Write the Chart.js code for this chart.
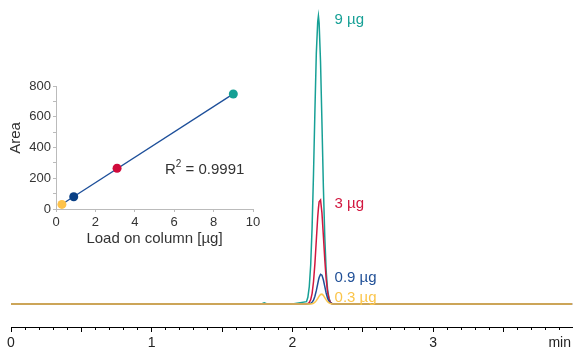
<!DOCTYPE html>
<html>
<head>
<meta charset="utf-8">
<script src="https://cdn.jsdelivr.net/npm/chart.js@4.4.1/dist/chart.umd.min.js"></script>
<style>
    body { margin: 0; background: #fff; }
    #wrap { position: relative; width: 574px; height: 350px; }
    #mainChart { position: absolute; left: 0; top: 0; }
    #insetChart { position: absolute; left: 0; top: 70px; }
</style>
</head>
<body>
<div id="wrap">
    <canvas id="mainChart" width="574" height="350"></canvas>
    <canvas id="insetChart" width="270" height="180"></canvas>
</div>
<script>
// Chromatogram (time in min, signal in arbitrary units)
const times = [0, 1.0, 1.78, 1.80, 1.82, 2.0,
    2.10, 2.11, 2.12, 2.13, 2.14, 2.15, 2.16, 2.17, 2.18, 2.185, 2.19,
    2.20, 2.21, 2.22, 2.23, 2.24, 2.25, 2.26, 2.27, 2.28, 2.29,
    3.0, 3.99];
const signal9ug = [0, 0, 0, 0.4, 0, 0,
    0.8, 2.3, 6.0, 13.5, 26.5, 45, 67, 87, 98, 100, 97.5,
    84, 63, 41, 23.5, 11.5, 5, 2, 0.6, 0.2, 0,
    0, 0];
const signal3ug = [0, 0, 0, 0, 0, 0,
    0, 0.2, 0.5, 1.5, 3.6, 7.7, 14.0, 22.1, 30.2, 33.2, 35.5,
    36.1, 31.6, 23.8, 15.5, 8.7, 4.2, 1.8, 0.6, 0.2, 0,
    0, 0];
const signal09ug = [0, 0, 0, 0, 0, 0,
    0, 0, 0.1, 0.2, 0.6, 1.3, 2.7, 4.6, 7.0, 8.2, 9.2,
    10.3, 10.0, 8.4, 6.1, 3.8, 2.0, 0.9, 0.4, 0.1, 0,
    0, 0];
const signal03ug = [0, 0, 0, 0, 0, 0,
    0, 0, 0, 0, 0.1, 0.25, 0.6, 1.15, 1.9, 2.3, 2.7,
    3.3, 3.4, 3.0, 2.2, 1.4, 0.8, 0.35, 0.15, 0, 0,
    0, 0];
const traceNames = ['9 µg', '3 µg', '0.9 µg', '0.3 µg'];

// Calibration inset
const loadOnColumn = [0.3, 0.9, 3.1, 9.0];
const peakArea = [30, 80, 265, 748];
const fitLoad = [0.3, 9.0];
const fitArea = [31, 749];
const r2Text = '0.9991';

const FONT = '"Liberation Sans", Arial, sans-serif';
const traceColors = ['#17a096', '#d2173f', '#1f4f97', '#fbc54b'];
const pointColors = ['#fdc24a', '#083f85', '#d00a3b', '#14a094'];

const traces = [signal9ug, signal3ug, signal09ug, signal03ug].map((vals, i) => ({
    label: traceNames[i],
    color: traceColors[i],
    values: vals,
}));

const near = (v, t) => Math.abs(v - t) < 1e-6;

// etiquetas de los picos
const peakLabels = {
    id: 'peakLabels',
    afterDatasetsDraw(chart) {
        const { ctx, scales: { x, y } } = chart;
        ctx.save();
        ctx.font = '15px ' + FONT;
        ctx.textAlign = 'left';
        ctx.textBaseline = 'middle';
        traces.forEach(tr => {
            const top = Math.max(...tr.values);
            ctx.fillStyle = tr.color;
            ctx.fillText(tr.label, x.getPixelForValue(2.30), y.getPixelForValue(top) + 4);
        });
        ctx.restore();
    },
};

new Chart(document.getElementById('mainChart'), {
    type: 'line',
    data: {
        // yellow first so it is drawn on top
        datasets: traces.slice().reverse().map(tr => ({
            label: tr.label,
            data: tr.values.map((v, i) => ({ x: times[i], y: v })),
            borderColor: tr.color,
            borderWidth: 1.5,
            pointRadius: 0,
            tension: 0,
            fill: false,
        })),
    },
    options: {
        responsive: false,
        animation: false,
        layout: { padding: { left: 11, top: 9, right: 0, bottom: 0 } },
        plugins: { legend: { display: false }, tooltip: { enabled: false } },
        scales: {
            x: {
                type: 'linear',
                min: 0,
                max: 3.99,
                border: { color: '#000', width: 1 },
                grid: {
                    drawOnChartArea: false,
                    tickLength: 5,
                    tickColor: '#000',
                    tickBorderDash: ctx => near(ctx.tick.value * 2, Math.round(ctx.tick.value * 2)) ? [] : [2, 10],
                },
                ticks: {
                    stepSize: 0.1,
                    includeBounds: false,
                    autoSkip: false,
                    maxRotation: 0,
                    padding: 3,
                    color: '#222',
                    font: { family: FONT, size: 14 },
                    callback: v => near(v, Math.round(v)) ? String(Math.round(v)) : (near(v, 3.9) ? 'min' : ''),
                },
                afterFit: s => { s.height = 23; },
            },
            y: { display: false, min: -8.0, max: 102.4 },
        },
    },
    plugins: [peakLabels],
});

// R² y título del eje y
const insetText = {
    id: 'insetText',
    afterDraw(chart) {
        const { ctx } = chart;
        ctx.save();
        ctx.fillStyle = '#333';
        ctx.textBaseline = 'alphabetic';
        ctx.textAlign = 'left';
        let x = 165, yb = 104;
        ctx.font = '15px ' + FONT;
        ctx.fillText('R', x, yb);
        x += ctx.measureText('R').width;
        ctx.font = '10px ' + FONT;
        ctx.fillText('2', x, yb - 7);
        x += ctx.measureText('2').width;
        ctx.font = '15px ' + FONT;
        ctx.fillText(' = ' + r2Text, x, yb);
        // eje y
        ctx.translate(16, 68);
        ctx.rotate(-Math.PI / 2);
        ctx.textAlign = 'center';
        ctx.textBaseline = 'middle';
        ctx.fillText('Area', 0, 0);
        ctx.restore();
    },
};

new Chart(document.getElementById('insetChart'), {
    type: 'scatter',
    data: {
        datasets: [
            {
                data: loadOnColumn.map((v, i) => ({ x: v, y: peakArea[i] })),
                pointBackgroundColor: pointColors,
                pointBorderWidth: 0,
                pointRadius: 4.5,
            },
            {
                type: 'line',
                data: fitLoad.map((v, i) => ({ x: v, y: fitArea[i] })),
                borderColor: '#1d4f9a',
                borderWidth: 1.3,
                pointRadius: 0,
                tension: 0,
            },
        ],
    },
    options: {
        responsive: false,
        animation: false,
        layout: { padding: { left: 0, top: 16, right: 17, bottom: 0 } },
        plugins: { legend: { display: false }, tooltip: { enabled: false } },
        scales: {
            x: {
                type: 'linear',
                min: 0,
                max: 10,
                border: { color: '#bbb', width: 1 },
                grid: { drawOnChartArea: false, tickLength: 3, tickColor: '#bbb' },
                ticks: {
                    stepSize: 2,
                    maxRotation: 0,
                    padding: 3,
                    color: '#333',
                    font: { family: FONT, size: 13 },
                },
                title: {
                    display: true,
                    text: 'Load on column [µg]',
                    color: '#333',
                    font: { family: FONT, size: 15 },
                    padding: { top: 0, bottom: 2 },
                },
                afterFit: s => { s.height = 41; },
            },
            y: {
                type: 'linear',
                min: 0,
                max: 800,
                border: { color: '#bbb', width: 1 },
                grid: { drawOnChartArea: false, tickLength: 3, tickColor: '#bbb' },
                ticks: {
                    stepSize: 100,
                    autoSkip: false,
                    padding: 2,
                    color: '#333',
                    font: { family: FONT, size: 13 },
                    callback: v => v % 200 === 0 ? String(v) : '',
                },
                afterFit: s => { s.width = 56; },
            },
        },
    },
    plugins: [insetText],
});
</script>
</body>
</html>
